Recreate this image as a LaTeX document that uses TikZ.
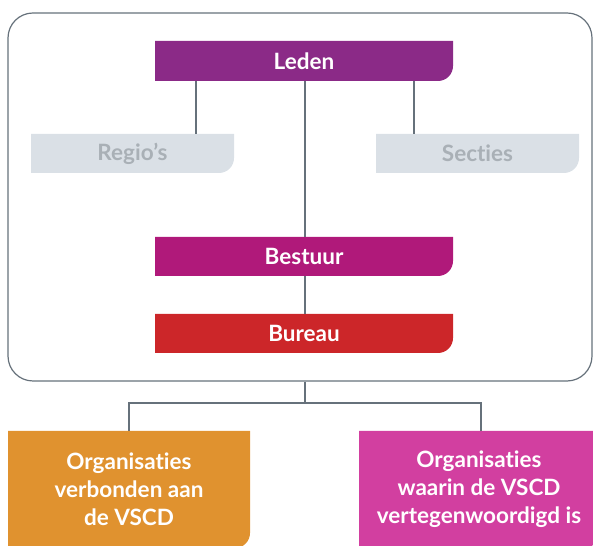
\documentclass[tikz,border=0pt]{standalone}
\usepackage{fontspec}
\setmainfont[Ligatures=NoCommon]{Lato}
\definecolor{cleden}{HTML}{8B2A87}
\definecolor{cbestuur}{HTML}{B0197A}
\definecolor{cbureau}{HTML}{CC2629}
\definecolor{cgreybox}{HTML}{DAE0E6}
\definecolor{cgreytext}{HTML}{A9B0B6}
\definecolor{corange}{HTML}{E0922F}
\definecolor{cmagenta}{HTML}{D23FA0}
\definecolor{cline}{HTML}{66717B}
\begin{document}
\begin{tikzpicture}[x=1pt,y=1pt,
  rbox/.style={rectangle, inner sep=0pt, text=white, font=\bfseries\fontsize{22.5}{28}\selectfont, align=center,
    path picture={\fill[#1] (path picture bounding box.north west) -- (path picture bounding box.north east)
      -- ([yshift=15pt]path picture bounding box.south east) arc[start angle=0,end angle=-90,radius=15pt]
      -- (path picture bounding box.south west) -- cycle;}},
  conn/.style={draw=cline, line width=1.1pt}
]
\useasboundingbox (0,0) rectangle (593,545);
\node[draw=cline, line width=1.2pt, rounded corners=25pt, minimum width=584pt, minimum height=368pt, inner sep=0pt] (frame) at (300,348) {};
\node[rbox=cleden, minimum width=298pt, minimum height=40pt] (leden) at (304,484) {Leden};
\node[rbox=cgreybox, text=cgreytext, minimum width=203pt, minimum height=39pt] (regio) at (132.5,391.5) {Regio’s};
\node[rbox=cgreybox, text=cgreytext, minimum width=203pt, minimum height=39pt] (secties) at (477.5,391.5) {Secties};
\node[rbox=cbestuur, minimum width=298pt, minimum height=39pt] (bestuur) at (304,288.5) {Bestuur};
\node[rbox=cbureau, minimum width=298pt, minimum height=39pt] (bureau) at (304,211.5) {Bureau};
\node[rbox=corange, minimum width=242pt, minimum height=117pt] (org1) at (129,55.5) {Organisaties\\verbonden aan\\de VSCD};
\node[rbox=cmagenta, minimum width=240pt, minimum height=117pt] (org2) at (479,55.5) {Organisaties\\waarin de VSCD\\vertegenwoordigd is};
\draw[conn] (leden.south -| 196,0) -- (regio.north -| 196,0);
\draw[conn] (leden.south -| 414,0) -- (secties.north -| 414,0);
\draw[conn] (leden.south -| 305,0) -- (bestuur.north -| 305,0);
\draw[conn] (bestuur.south -| 305,0) -- (bureau.north -| 305,0);
\coordinate (split) at (305,142);
\draw[conn] (frame.south -| split) -- (split);
\draw[conn] (org1.north) |- (split) -| (org2.north -| 481,0);
\end{tikzpicture}
\end{document}
